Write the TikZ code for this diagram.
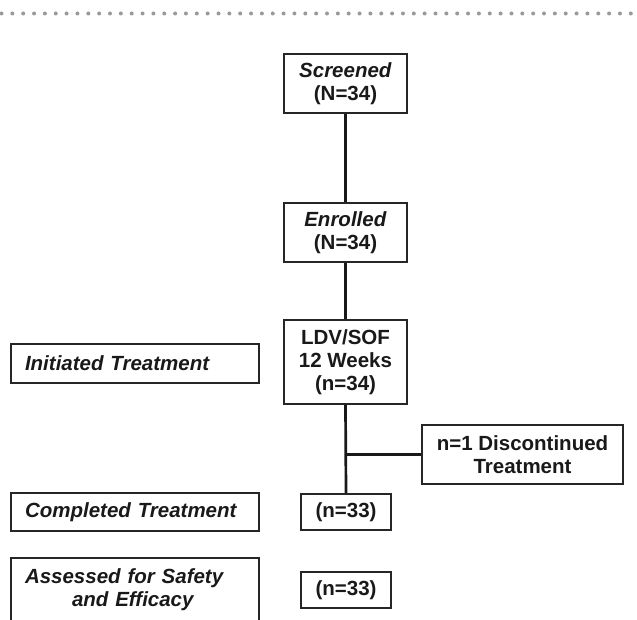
\documentclass[tikz,border=0pt]{standalone}
\usepackage{fontspec}
\setmainfont{Liberation Sans}
\tikzset{
    box/.style={draw=black!85, line width=1.3pt, fill=white, text=black!90,
        font=\bfseries\fontsize{20.5}{23}\selectfont, align=center, inner sep=0pt},
    side/.style={box, align=left, text width=220pt, inner xsep=14pt, minimum width=248pt},
    link/.style={line width=2.7pt, black!90}
}
\begin{document}
\begin{tikzpicture}[x=1pt, y=-1pt]
    \clip (0,0) rectangle (637,620);
    \fill[white] (0,0) rectangle (637,620);
    \foreach \i in {0,...,58}
        \fill[black!40] (1.5+10.85*\i,13.5) circle (2pt);

    \node[box, minimum width=123pt, minimum height=59pt] (scr) at (345.5,83.5) {\textit{Screened}\\(N=34)};
    \node[box, minimum width=123pt, minimum height=59pt] (enr) at (345.5,232.5) {\textit{Enrolled}\\(N=34)};
    \node[box, minimum width=123pt, minimum height=84pt] (ldv) at (345.5,362) {LDV/SOF\\12 Weeks\\(n=34)};
    \node[box, minimum width=201pt, minimum height=59pt] (disc) at (522.5,454.5) {n=1 Discontinued\\Treatment};
    \node[box, minimum width=90pt, minimum height=36pt] (comp33) at (346,512) {(n=33)};
    \node[box, minimum width=90pt, minimum height=36pt] (asse33) at (346,590) {(n=33)};

    \node[side, minimum height=39pt] (init) at (135,363.5) {\textit{Initiated Treatment}};
    \node[side, minimum height=38pt] (comp) at (135,512) {\textit{Completed Treatment}};
    \node[side, minimum height=64pt] (asse) at (135,590) {\textit{Assessed for Safety}\\\hspace*{47pt}\textit{and Efficacy}};

    \coordinate (br) at (ldv.south |- disc.west);
    \draw[link] (scr.south) -- (enr.north);
    \draw[link] (enr.south) -- (ldv.north);
    \draw[link] (ldv.south) -- (comp33.north);
    \draw[link] (br) -- (disc.west);
\end{tikzpicture}
\end{document}
